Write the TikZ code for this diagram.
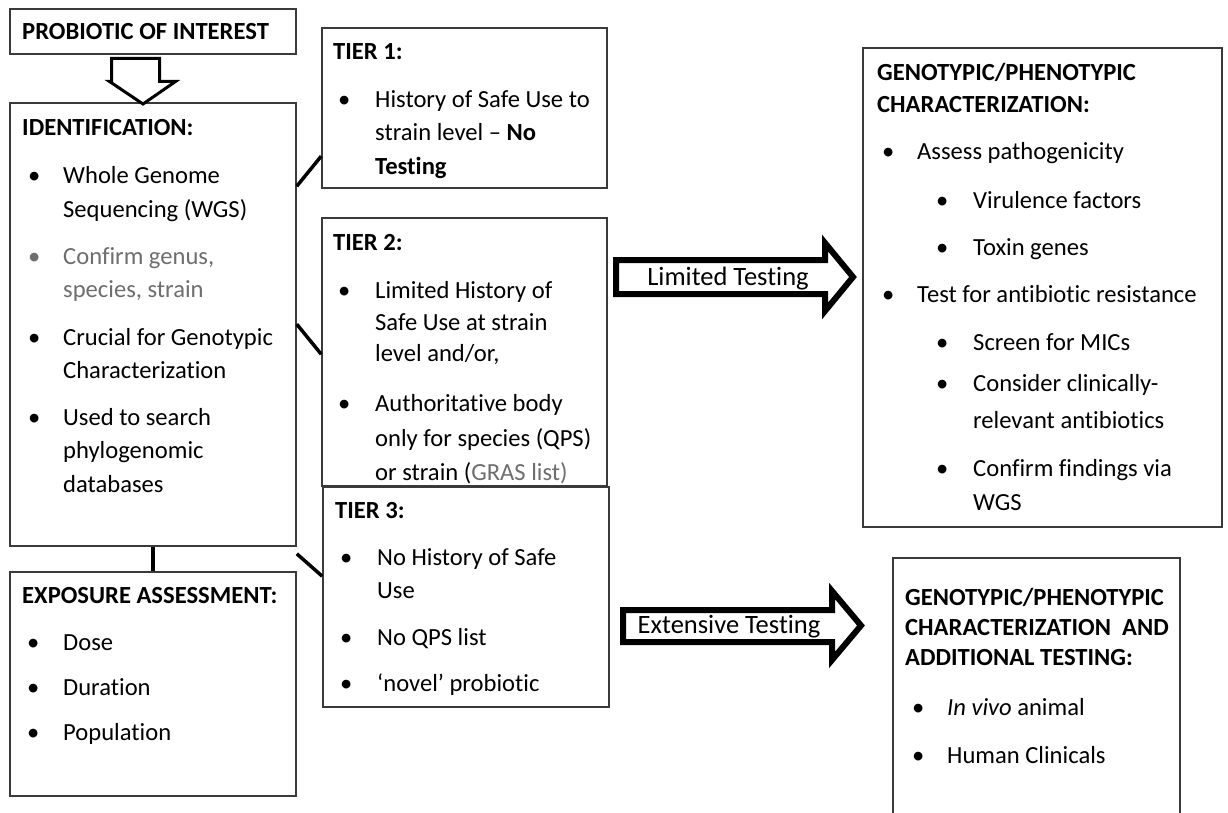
\documentclass[tikz,border=0pt]{standalone}
\usepackage{fontspec}
\setmainfont{Carlito}[Ligatures=NoCommon]
\usetikzlibrary{calc}
\definecolor{boxgray}{HTML}{3A3A3A}
\definecolor{txtgray}{HTML}{6E6E6E}
\newcommand\myline[4]{\node[txt] (#1) at (#2,{#3+8}) {#4};}
\newcommand\mytitle[4]{\node[ttl] (#1) at (#2,{#3+8}) {#4};}
\newcommand\mybul[3]{\node[txt] (#1) at (#2,{#3+8}) {\textbullet};}
\begin{document}
\begin{tikzpicture}[x=1pt,y=-1pt,
  box/.style={draw=boxgray, line width=1.6pt, inner sep=0pt, fill=white},
  txt/.style={anchor=base west, inner sep=0pt, font=\fontsize{24.6}{28}\selectfont, text=black},
  ttl/.style={anchor=base west, inner sep=0pt, font=\fontsize{24.6}{28}\selectfont\bfseries, text=black},
  conn/.style={line width=3.5pt, black},
  bigarrow/.style={draw=black, line width=6pt, line join=miter, fill=white},
  hollow/.style={draw=black, line width=3pt, line join=miter, fill=white},
  arrlabel/.style={anchor=base, inner sep=0pt, font=\fontsize{26.5}{30}\selectfont, text=black}]
\fill[white] (0,0) rectangle (1228,813);
\useasboundingbox (0,0) rectangle (1228,813);

% boxes
\node[box, minimum width=286pt, minimum height=45pt] (prob) at (153,31.5) {};
\node[box, minimum width=286pt, minimum height=443pt] (id) at (153,324.5) {};
\node[box, minimum width=286pt, minimum height=224pt] (exp) at (153,684) {};
\node[box, minimum width=285pt, minimum height=160pt] (tier1) at (464.5,108) {};
\node[box, minimum width=285pt, minimum height=268pt] (tier2) at (464.5,352) {};
\node[box, minimum width=286pt, minimum height=220pt] (tier3) at (466,597) {};
\node[box, minimum width=359pt, minimum height=479pt] (geno) at (1042.5,287.5) {};
\node[box, minimum width=287pt, minimum height=264pt] (genoadd) at (1036.5,690) {};

% hollow down arrow
\draw[hollow] (111.5,58.5) -- (159.5,58.5) -- (159.5,81.5) -- (175.5,81.5) -- (143,104) -- (109.5,81.5) -- (111.5,81.5) -- cycle;

% connectors
\draw[conn] ([yshift=-84pt]id.north east) -- ([yshift=-129pt]tier1.north west);
\draw[conn] ([yshift=-222pt]id.north east) -- ([yshift=-137pt]tier2.north west);
\coordinate (c3) at ([yshift=-7pt]id.south east);
\draw[conn] (c3) -- ([yshift=-90pt]tier3.north west);
\draw[conn] (id.south) -- (exp.north);

% big arrows
\draw[bigarrow] (616,260) -- (825,260) -- (825,243) -- (853,277) -- (825,311) -- (825,294) -- (616,294) -- cycle;
\node[arrlabel] (lim) at (728,285) {Limited Testing};
\draw[bigarrow] (623,610) -- (832,610) -- (832,591) -- (861,625.5) -- (832,660) -- (832,642) -- (623,642) -- cycle;
\node[arrlabel] (ext) at (729,633) {Extensive Testing};

% probiotic
\mytitle{probt}{22}{32}{PROBIOTIC OF INTEREST}

% identification
\mytitle{idt}{22}{128}{IDENTIFICATION:}
\mybul{idb1}{28}{175}
\myline{id1}{63}{175}{Whole Genome}
\myline{id2}{63}{209}{Sequencing (WGS)}
\node[txt, text=txtgray] (idb2) at (28,264) {\textbullet};
\node[txt, text=txtgray] (id3) at (63,264) {Confirm genus,};
\node[txt, text=txtgray] (id4) at (63,297) {species, strain};
\mybul{idb3}{28}{337}
\myline{id5}{63}{337}{Crucial for Genotypic}
\myline{id6}{63}{370}{Characterization}
\mybul{idb4}{28}{417}
\myline{id7}{63}{417}{Used to search}
\myline{id8}{63}{450}{phylogenomic}
\myline{id9}{63}{484}{databases}

% exposure
\mytitle{expt}{22}{595}{EXPOSURE ASSESSMENT:}
\mybul{expb1}{27}{642}
\myline{exp1}{63}{642}{Dose}
\mybul{expb2}{27}{687}
\myline{exp2}{63}{687}{Duration}
\mybul{expb3}{27}{732}
\myline{exp3}{63}{732}{Population}

% tier 1
\mytitle{t1t}{333}{52}{TIER 1:}
\mybul{t1b1}{338}{100}
\myline{t11}{375}{100}{History of Safe Use to}
\myline{t12}{375}{133}{strain level -- \textbf{No}}
\mytitle{t13}{375}{167}{Testing}

% tier 2
\mytitle{t2t}{333}{242}{TIER 2:}
\mybul{t2b1}{338}{290}
\myline{t21}{375}{290}{Limited History of}
\myline{t22}{375}{322}{Safe Use at strain}
\myline{t23}{375}{353}{level and/or,}
\mybul{t2b2}{338}{403}
\myline{t24}{375}{403}{Authoritative body}
\myline{t25}{375}{438}{only for species (QPS)}
\myline{t26}{375}{472}{or strain (\textcolor{txtgray}{GRAS list)}}

% tier 3
\mytitle{t3t}{335}{510}{TIER 3:}
\mybul{t3b1}{340}{557}
\myline{t31}{377}{557}{No History of Safe}
\myline{t32}{377}{590}{Use}
\mybul{t3b2}{340}{637}
\myline{t33}{377}{637}{No QPS list}
\mybul{t3b3}{340}{683}
\myline{t34}{377}{683}{`novel' probiotic}

% genotypic
\mytitle{gt1}{877}{73}{GENOTYPIC/PHENOTYPIC}
\mytitle{gt2}{877}{105}{CHARACTERIZATION:}
\mybul{gb1}{882}{152}
\myline{g1}{917}{152}{Assess pathogenicity}
\mybul{gb2}{936}{200}
\myline{g2}{973}{200}{Virulence factors}
\mybul{gb3}{936}{247}
\myline{g3}{973}{247}{Toxin genes}
\mybul{gb4}{882}{294}
\myline{g4}{917}{294}{Test for antibiotic resistance}
\mybul{gb5}{936}{342}
\myline{g5}{973}{342}{Screen for MICs}
\mybul{gb6}{936}{383}
\myline{g6}{973}{383}{Consider clinically-}
\myline{g7}{973}{420}{relevant antibiotics}
\mybul{gb7}{936}{468}
\myline{g8}{973}{468}{Confirm findings via}
\myline{g9}{973}{502}{WGS}

% genotypic + additional
\mytitle{at1}{905}{597}{GENOTYPIC/PHENOTYPIC}
\mytitle{at2}{905}{627}{CHARACTERIZATION\ \ AND}
\mytitle{at3}{905}{657}{ADDITIONAL TESTING:}
\mybul{ab1}{912}{707}
\myline{a1}{947}{707}{\textit{In vivo} animal}
\mybul{ab2}{912}{755}
\myline{a2}{947}{755}{Human Clinicals}
\end{tikzpicture}
\end{document}
